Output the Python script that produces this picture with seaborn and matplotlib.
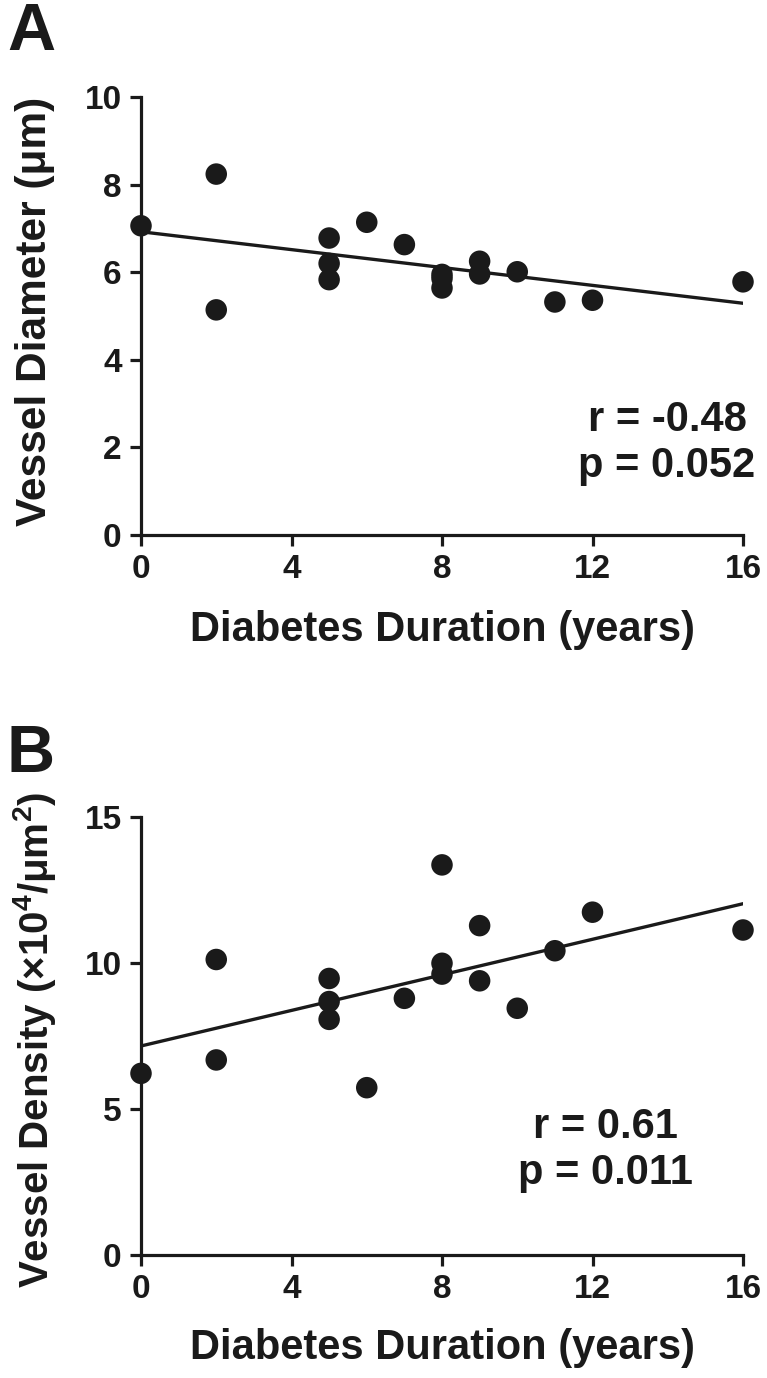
import numpy as np
import pandas as pd
import matplotlib
matplotlib.use("Agg")
import matplotlib.pyplot as plt
import seaborn as sns

# ---- data ----
duration_a = [0, 2, 2, 5, 5, 5, 6, 7, 8, 8, 8, 9, 9, 10, 11, 12, 16]
diameter = [7.06, 8.24, 5.14, 6.78, 6.20, 5.83, 7.14, 6.63, 5.95, 5.86, 5.64, 6.25, 5.96, 6.01, 5.32, 5.36, 5.78]

duration_b = [0, 2, 2, 5, 5, 5, 6, 7, 8, 8, 8, 9, 9, 10, 11, 12, 16]
density = [6.22, 10.12, 6.68, 9.47, 8.68, 8.07, 5.73, 8.79, 13.36, 9.99, 9.62, 11.28, 9.39, 8.45, 10.42, 11.74, 11.13]

x_ticks = [0, 4, 8, 12, 16]
y_ticks_a = [0, 2, 4, 6, 8, 10]
y_ticks_b = [0, 5, 10, 15]

x_label = "Diabetes Duration (years)"
y_label_a = "Vessel Diameter (μm)"
y_label_b = r"Vessel Density (×10$^{4}$/μm$^{2}$)"
stats_a = "r = -0.48\np = 0.052"
stats_b = "r = 0.61\np = 0.011"

df_a = pd.DataFrame({"duration": duration_a, "value": diameter})
df_b = pd.DataFrame({"duration": duration_b, "value": density})

sns.set_theme(style="ticks")
plt.rcParams["font.family"] = ["Liberation Sans", "DejaVu Sans"]
plt.rcParams["font.weight"] = "bold"
plt.rcParams["mathtext.fontset"] = "custom"
plt.rcParams["mathtext.rm"] = "Liberation Sans:bold"
plt.rcParams["mathtext.bf"] = "Liberation Sans:bold"
plt.rcParams["mathtext.it"] = "Liberation Sans:bold"
plt.rcParams["mathtext.default"] = "bf"

W, H = 767, 1378
INK = "#1a1a1a"
fig = plt.figure(figsize=(W / 100, H / 100), dpi=100)

def px_axes(left, top, right, bottom):
    return fig.add_axes([left / W, 1 - bottom / H, (right - left) / W, (bottom - top) / H])

panels = [
    # axes box (px), y ticks, y label, label size, stats, stats centre (px), letter, letter centre, ylabel centre y, xlabel centre y
    ((141, 97, 743, 535), y_ticks_a, y_label_a, 30.5, stats_a, (667, 443), "A", (31, 33), 311, 630, df_a),
    ((141, 817, 743, 1255), y_ticks_b, y_label_b, 29, stats_b, (605, 1150), "B", (31, 755), 1040, 1348, df_b),
]

LW = 2.3
for box, yt, ylab, ylab_fs, stats, stxy, letter, lxy, ylab_y, xlab_y, df in panels:
    l, t, r, b = box
    ax = px_axes(l, t, r, b)
    sns.regplot(data=df, x="duration", y="value", ax=ax, ci=None, truncate=True,
                scatter_kws=dict(s=240, color=INK, alpha=1, edgecolor="none", clip_on=False, zorder=3),
                line_kws=dict(color=INK, lw=2.4, zorder=2))
    ax.set_xlim(0, 16)
    ax.set_ylim(yt[0], yt[-1])
    ax.set_xticks(x_ticks)
    ax.set_yticks(yt)
    ax.set_xticklabels([str(v) for v in x_ticks], fontsize=24, fontweight="bold")
    ax.set_yticklabels([str(v) for v in yt], fontsize=24, fontweight="bold")
    sns.despine(ax=ax)
    for s in ["left", "bottom"]:
        ax.spines[s].set_linewidth(LW)
        ax.spines[s].set_color(INK)
    ax.tick_params(axis="both", length=8, width=LW, color=INK, pad=6, labelcolor=INK)
    ax.set_xlabel(x_label, fontsize=30, fontweight="bold", color=INK, va="center")
    ax.xaxis.set_label_coords(0.5, -(xlab_y - b) / (b - t))
    ax.set_ylabel(ylab, fontsize=ylab_fs, fontweight="bold", color=INK, va="center")
    ax.yaxis.set_label_coords(-(l - 35) / (r - l), (b - ylab_y) / (b - t))
    ax.patch.set_alpha(0)
    fig.text(stxy[0] / W, 1 - stxy[1] / H, stats, ha="center", va="center",
             fontsize=30, fontweight="bold", color=INK, linespacing=1.2)
    fig.text(lxy[0] / W, 1 - lxy[1] / H, letter, ha="center", va="center",
             fontsize=48, fontweight="bold", color=INK)

fig.savefig("out.png", dpi=100)
